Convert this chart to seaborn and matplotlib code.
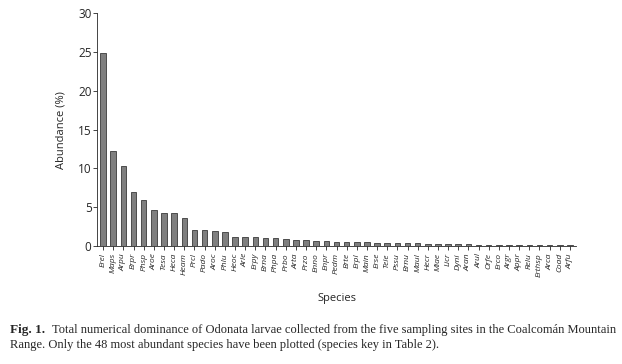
import matplotlib
matplotlib.use("Agg")
import matplotlib.pyplot as plt
import seaborn as sns
import pandas as pd

# species codes (most abundant first) and abundance in %
species = ["Erel", "Maps", "Arpu", "Brpr", "Phsp", "Aroe", "Tesa", "Heca", "Heam", "Prcl",
           "Pado", "Aroc", "Phlu", "Heoc", "Arle", "Erpy", "Brna", "Phpa", "Prbo", "Arta",
           "Przo", "Enno", "Enpr", "Pedm", "Brte", "Erpl", "Main", "Erse", "Tele", "Pssu",
           "Brnu", "Maul", "Hecr", "Miae", "Licr", "Dyni", "Aran", "Arul", "Orfe", "Erco",
           "Argr", "Appr", "Relu", "Erthsp", "Arca", "Coad", "Arfu"]
abundance = [24.8, 12.2, 10.3, 6.9, 5.9, 4.6, 4.2, 4.2, 3.6, 2.1,
             2.1, 1.9, 1.8, 1.2, 1.2, 1.15, 1.1, 1.0, 0.95, 0.8,
             0.75, 0.7, 0.6, 0.55, 0.5, 0.5, 0.5, 0.45, 0.45, 0.4,
             0.4, 0.35, 0.3, 0.3, 0.3, 0.25, 0.25, 0.2, 0.2, 0.2,
             0.15, 0.15, 0.15, 0.15, 0.1, 0.1, 0.1]
y_ticks = [0, 5, 10, 15, 20, 25, 30]

df = pd.DataFrame({"Species": species, "Abundance": abundance})

sns.set_style("ticks")
plt.rcParams["font.family"] = ["Open Sans", "DejaVu Sans"]

fig = plt.figure(figsize=(6.22, 3.64), dpi=100)
ax = fig.add_axes([0.156, 0.324, 0.77, 0.64])

sns.barplot(data=df, x="Species", y="Abundance", color="#7f7f7f",
            edgecolor="#3a3a3a", linewidth=0.6, width=0.55, saturation=1, ax=ax)

ax.set_ylim(0, 30)
ax.set_yticks(y_ticks)
ax.set_xlim(-0.6, len(species) - 0.4)
ax.tick_params(axis="y", labelsize=8.5, length=3, width=0.6, pad=1)
ax.tick_params(axis="x", labelsize=6, length=3, width=0.6, pad=2)
for lbl in ax.get_xticklabels():
    lbl.set_rotation(90)
    lbl.set_fontstyle("italic")
ax.set_xlabel("Species", fontsize=8, labelpad=12)
ax.set_ylabel("Abundance (%)", fontsize=8, labelpad=8)
for s in ["left", "bottom"]:
    ax.spines[s].set_linewidth(0.6)
sns.despine(ax=ax)

serif = ["Liberation Serif", "DejaVu Serif"]
fig.text(0.016, 0.085, "Fig. 1.", fontsize=9.5, fontweight="bold", family=serif)
fig.text(0.084, 0.085, "Total numerical dominance of Odonata larvae collected from the five sampling sites in the Coalcom\u00e1n Mountain",
         fontsize=9, family=serif)
fig.text(0.016, 0.043, "Range. Only the 48 most abundant species have been plotted (species key in Table 2).",
         fontsize=9, family=serif)

fig.savefig("out.png", dpi=100)
